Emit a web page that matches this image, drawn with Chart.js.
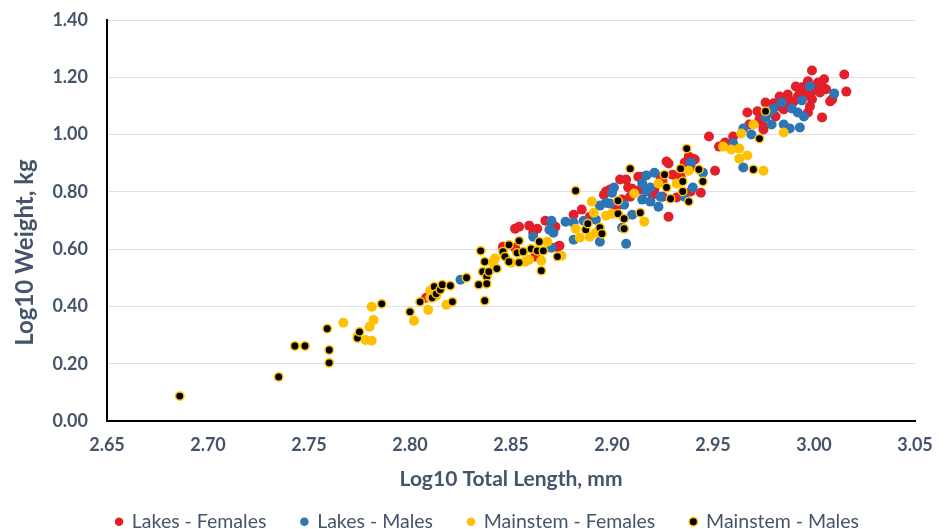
<!DOCTYPE html>
<html>
<head>
<style>
  body { margin: 0; background: #fff; }
  #wrap { width: 950px; height: 529px; }
</style>
</head>
<body>
<div id="wrap"><canvas id="myChart"></canvas></div>

<script src="https://cdn.jsdelivr.net/npm/chart.js"></script>
<script>
// values: [log10 length, log10 weight]
const lakesFemales = [
  [2.808,0.430],[2.846,0.608],[2.852,0.605],[2.852,0.671],[2.854,0.678],[2.862,0.574],[2.859,0.682],[2.863,0.671],
  [2.861,0.657],[2.867,0.699],[2.872,0.678],[2.873,0.608],[2.874,0.612],[2.881,0.720],[2.885,0.738],[2.889,0.713],
  [2.896,0.790],[2.897,0.801],[2.899,0.808],[2.902,0.738],[2.904,0.843],[2.905,0.773],[2.907,0.843],[2.908,0.815],
  [2.909,0.783],[2.910,0.811],[2.913,0.853],[2.914,0.808],[2.915,0.853],[2.917,0.808],[2.920,0.790],[2.921,0.808],
  [2.924,0.853],[2.925,0.836],[2.925,0.783],[2.927,0.906],[2.928,0.899],[2.928,0.713],[2.930,0.860],[2.932,0.780],
  [2.934,0.853],[2.936,0.902],[2.938,0.923],[2.939,0.801],[2.939,0.888],[2.940,0.916],[2.941,0.913],[2.944,0.797],
  [2.948,0.993],[2.951,0.874],[2.953,0.958],[2.956,0.972],[2.958,0.965],[2.960,0.993],[2.967,1.077],[2.968,1.035],
  [2.972,1.081],[2.973,1.053],[2.975,1.028],[2.975,1.018],[2.976,1.112],[2.979,1.081],[2.980,1.109],[2.981,1.063],
  [2.983,1.133],[2.983,1.098],[2.985,1.088],[2.986,1.116],[2.987,1.140],[2.988,1.098],[2.990,1.116],[2.991,1.168],
  [2.992,1.133],[2.993,1.147],[2.994,1.165],[2.996,1.140],[2.997,1.186],[2.997,1.077],[2.998,1.098],[2.999,1.224],
  [2.999,1.123],[2.999,1.150],[3.001,1.165],[3.002,1.182],[3.003,1.147],[3.004,1.168],[3.004,1.060],[3.005,1.193],
  [3.006,1.158],[3.008,1.116],[3.009,1.123],[3.015,1.210],[3.016,1.150]
];
const lakesMales = [
  [2.825,0.493],[2.861,0.643],[2.869,0.668],[2.870,0.605],[2.870,0.699],[2.871,0.657],[2.877,0.696],[2.881,0.633],
  [2.881,0.692],[2.886,0.699],[2.892,0.703],[2.894,0.752],[2.894,0.626],[2.897,0.762],[2.899,0.759],[2.900,0.797],
  [2.901,0.815],[2.905,0.675],[2.906,0.755],[2.907,0.619],[2.910,0.720],[2.915,0.829],[2.915,0.773],[2.917,0.857],
  [2.917,0.801],[2.919,0.766],[2.919,0.815],[2.921,0.867],[2.923,0.748],[2.924,0.783],[2.936,0.783],[2.939,0.902],
  [2.940,0.815],[2.945,0.867],[2.960,0.969],[2.965,1.021],[2.965,0.885],[2.969,1.000],[2.976,1.060],[2.978,1.077],
  [2.979,1.035],[2.980,1.091],[2.984,1.112],[2.985,1.035],[2.988,1.021],[2.989,1.091],[2.992,1.077],[2.993,1.025],
  [2.994,1.119],[2.995,1.063],[2.998,1.168],[3.010,1.143]
];
const mainstemFemales = [
  [2.767,0.343],[2.774,0.294],[2.778,0.283],[2.780,0.329],[2.781,0.280],[2.781,0.399],[2.782,0.353],[2.802,0.350],
  [2.809,0.388],[2.810,0.430],[2.810,0.455],[2.813,0.437],[2.818,0.406],[2.841,0.553],[2.842,0.567],[2.850,0.553],
  [2.857,0.556],[2.859,0.563],[2.865,0.560],[2.868,0.626],[2.875,0.577],[2.882,0.671],[2.884,0.640],[2.889,0.643],
  [2.890,0.766],[2.891,0.727],[2.892,0.657],[2.897,0.717],[2.900,0.724],[2.911,0.794],[2.916,0.696],[2.923,0.829],
  [2.932,0.829],[2.938,0.874],[2.955,0.958],[2.959,0.948],[2.963,0.951],[2.963,0.916],[2.964,1.004],[2.967,0.927],
  [2.970,1.035],[2.975,0.874],[2.985,1.007]
];
const mainstemMales = [
  [2.686,0.087],[2.735,0.154],[2.743,0.262],[2.748,0.262],[2.759,0.322],[2.760,0.248],[2.760,0.203],[2.774,0.290],
  [2.775,0.311],[2.786,0.409],[2.800,0.381],[2.805,0.416],[2.811,0.430],[2.812,0.469],[2.813,0.444],[2.815,0.458],
  [2.816,0.476],[2.820,0.472],[2.821,0.416],[2.828,0.500],[2.834,0.476],[2.835,0.594],[2.836,0.521],[2.837,0.420],
  [2.837,0.556],[2.838,0.504],[2.838,0.479],[2.839,0.521],[2.843,0.532],[2.846,0.591],[2.847,0.574],[2.849,0.615],
  [2.849,0.556],[2.853,0.587],[2.854,0.629],[2.854,0.553],[2.856,0.591],[2.860,0.601],[2.863,0.594],[2.864,0.626],
  [2.866,0.594],[2.865,0.525],[2.873,0.574],[2.882,0.804],[2.887,0.668],[2.888,0.689],[2.894,0.675],[2.895,0.654],
  [2.903,0.769],[2.903,0.724],[2.906,0.706],[2.906,0.671],[2.909,0.881],[2.914,0.727],[2.926,0.860],[2.927,0.815],
  [2.929,0.776],[2.934,0.881],[2.935,0.836],[2.935,0.801],[2.937,0.951],[2.938,0.766],[2.943,0.878],[2.945,0.836],
  [2.970,0.878],[2.973,0.986],[2.976,1.081]
];

const seriesNames = ['Lakes - Females', 'Lakes - Males', 'Mainstem - Females', 'Mainstem - Males'];
const xTicks = [2.65, 2.70, 2.75, 2.80, 2.85, 2.90, 2.95, 3.00, 3.05];
const yTicks = [0.00, 0.20, 0.40, 0.60, 0.80, 1.00, 1.20, 1.40];

const textColor = '#44546a';
const toPoints = arr => arr.map(p => ({x: p[0], y: p[1]}));

// nudge the centred legend row to the right, like the original
const legendShift = {
    id: 'legendShift',
    afterLayout(chart) {
        if (chart.legend) chart.legend.left = 60;
    }
};

const ctx = document.getElementById('myChart').getContext('2d');
const myChart = new Chart(ctx, {
    type: 'scatter',
    data: {
        datasets: [
            {
                label: seriesNames[0],
                data: toPoints(lakesFemales),
                backgroundColor: '#e3202a',
                borderColor: '#e3202a',
                borderWidth: 0,
                pointRadius: 5,
                order: 4
            },
            {
                label: seriesNames[1],
                data: toPoints(lakesMales),
                backgroundColor: '#2e75b6',
                borderColor: '#2e75b6',
                borderWidth: 0,
                pointRadius: 5,
                order: 3
            },
            {
                label: seriesNames[2],
                data: toPoints(mainstemFemales),
                backgroundColor: '#ffc000',
                borderColor: '#ffc000',
                borderWidth: 0,
                pointRadius: 5,
                order: 2
            },
            {
                label: seriesNames[3],
                data: toPoints(mainstemMales),
                backgroundColor: '#000000',
                borderColor: '#ffc000',
                borderWidth: 1.5,
                pointRadius: 4.2,
                order: 1
            }
        ]
    },
    options: {
        responsive: true,
        maintainAspectRatio: false,
        animation: false,
        events: [],
        layout: {
            padding: {top: 20, right: 35, bottom: 0, left: 0}
        },
        scales: {
            x: {
                type: 'linear',
                min: xTicks[0],
                max: xTicks[xTicks.length - 1],
                afterBuildTicks: scale => { scale.ticks = xTicks.map(v => ({value: v})); },
                afterFit: scale => { scale.height = 56; },
                grid: { display: false, drawTicks: false },
                border: { display: true, color: '#000', width: 2 },
                ticks: {
                    padding: 13,
                    color: textColor,
                    font: { family: 'Lato', size: 18, weight: 'bold' },
                    callback: v => v.toFixed(2)
                },
                title: {
                    display: true,
                    text: 'Log10 Total Length, mm',
                    color: textColor,
                    font: { family: 'Lato', size: 21, weight: 'bold' },
                    padding: { top: 0, bottom: -15 }
                }
            },
            y: {
                type: 'linear',
                min: yTicks[0],
                max: yTicks[yTicks.length - 1],
                afterBuildTicks: scale => { scale.ticks = yTicks.map(v => ({value: v})); },
                afterFit: scale => {
                    scale.width = 107;
                    scale.paddingTop = 0;
                    scale.paddingBottom = 0;
                },
                grid: { color: '#dde1e6', lineWidth: 1, drawTicks: false },
                border: { display: true, color: '#000', width: 2 },
                ticks: {
                    padding: 19,
                    color: textColor,
                    font: { family: 'Lato', size: 18, weight: 'bold' },
                    callback: v => v.toFixed(2)
                },
                title: {
                    display: true,
                    // trailing no-break spaces move the title down, as in the original
                    text: 'Log10 Weight, kg' + '\u00a0'.repeat(11),
                    color: textColor,
                    font: { family: 'Lato', size: 24, weight: 'bold' },
                    padding: { top: 11, bottom: 0 }
                }
            }
        },
        plugins: {
            legend: {
                position: 'bottom',
                maxHeight: 52,
                labels: {
                    usePointStyle: true,
                    pointStyle: 'circle',
                    boxWidth: 6,
                    boxHeight: 6,
                    padding: 35,
                    color: textColor,
                    font: { family: 'Lato', size: 19.5 },
                    sort: (a, b) => a.datasetIndex - b.datasetIndex
                }
            },
            tooltip: { enabled: false }
        }
    },
    plugins: [legendShift]
});
</script>
</body>
</html>
